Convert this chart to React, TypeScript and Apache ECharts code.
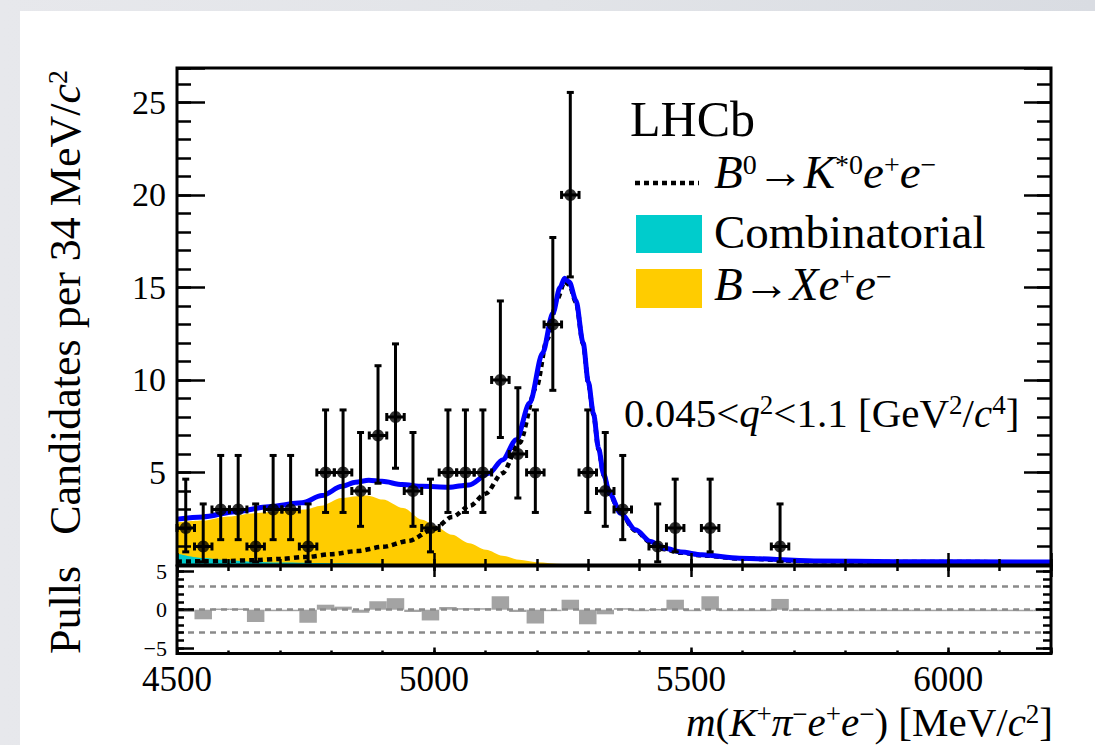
import React, { useEffect, useRef } from "react";
import * as echarts from "echarts";

const FONT = "Liberation Serif";

// ---- histogram data: 50 bins of 34 MeV/c^2 from 4500 to 6200 ----
const binCenters = [
  4517, 4551, 4585, 4619, 4653, 4687, 4721, 4755, 4789, 4823,
  4857, 4891, 4925, 4959, 4993, 5027, 5061, 5095, 5129, 5163,
  5197, 5231, 5265, 5299, 5333, 5367, 5401, 5435, 5469, 5503,
  5537, 5571, 5605, 5639, 5673, 5707, 5741, 5775, 5809, 5843,
  5877, 5911, 5945, 5979, 6013, 6047, 6081, 6115, 6149, 6183,
];
const halfBin = 17;
const counts = [
  2, 1, 3, 3, 1, 3, 3, 1, 5, 5,
  4, 7, 8, 4, 2, 5, 5, 5, 10, 6,
  5, 13, 20, 5, 4, 3, 0, 1, 2, 0,
  2, 0, 0, 0, 1, 0, 0, 0, 0, 0,
  0, 0, 0, 0, 0, 0, 0, 0, 0, 0,
];
const errLow = [
  0.71, 0.17, 1.37, 1.37, 0.17, 1.37, 1.37, 0.17, 2.84, 2.84,
  2.09, 4.42, 5.23, 2.09, 0.71, 2.84, 2.84, 2.84, 6.89, 3.62,
  2.84, 9.44, 15.57, 2.84, 2.09, 1.37, 0, 0.17, 0.71, 0,
  0.71, 0, 0, 0, 0.17, 0, 0, 0, 0, 0,
  0, 0, 0, 0, 0, 0, 0, 0, 0, 0,
];
const errHigh = [
  4.64, 3.3, 5.92, 5.92, 3.3, 5.92, 5.92, 3.3, 8.38, 8.38,
  7.16, 10.77, 11.95, 7.16, 4.64, 8.38, 8.38, 8.38, 14.27, 9.58,
  8.38, 17.7, 25.54, 8.38, 7.16, 5.92, 0, 3.3, 4.64, 0,
  4.64, 0, 0, 0, 3.3, 0, 0, 0, 0, 0,
  0, 0, 0, 0, 0, 0, 0, 0, 0, 0,
];
const pulls = [
  -0.3, -1.25, 0.15, 0.15, -1.6, -0.05, -0.05, -1.7, 0.65, 0.4,
  -0.4, 1.1, 1.5, -0.3, -1.4, 0.35, 0.2, 0.2, 1.75, -0.3,
  -1.8, -0.1, 1.3, -1.9, -0.6, 0.2, -0.1, 0.1, 1.3, -0.15,
  1.75, -0.1, -0.1, -0.1, 1.4, -0.08, -0.08, -0.08, -0.08, -0.08,
  -0.08, -0.08, -0.08, -0.08, -0.08, -0.08, -0.08, -0.08, -0.08, -0.08,
];
const pullRefLines = [3, 0, -3];

// ---- fit curves ----
const totalMass = [
  4500, 4550, 4613, 4678, 4743, 4782, 4821, 4847, 4873, 4899, 4938, 4977, 5029, 5068, 5107,
  5133, 5160, 5186, 5211, 5231, 5245, 5254, 5263, 5276, 5290, 5300, 5310, 5320, 5330, 5341,
  5363, 5392, 5421, 5449, 5480, 5521, 5594, 5739, 5900, 6200,
];
const totalFit = [
  2.48, 2.6, 2.88, 3.15, 3.36, 3.75, 4.25, 4.47, 4.58, 4.52, 4.35, 4.25, 4.2, 4.33, 4.96,
  5.68, 6.77, 8.75, 11.45, 13.6, 15.0, 15.5, 15.3, 14.3, 12.0, 9.9, 8.2, 6.3, 4.9, 3.9,
  2.8, 1.9, 1.27, 0.9, 0.7, 0.55, 0.37, 0.22, 0.18, 0.16,
];
const signalMass = [
  4500, 4550, 4600, 4650, 4700, 4750, 4800, 4850, 4900, 4950, 5000, 5035, 5070, 5100, 5133,
  5166, 5199, 5220, 5240, 5254, 5263, 5276, 5290, 5300, 5310, 5320, 5330, 5341, 5363, 5392,
  5421, 5449, 5480, 5521, 5594, 5739, 5900, 6200,
];
const signalFit = [
  0.18, 0.2, 0.22, 0.26, 0.33, 0.43, 0.58, 0.75, 0.98, 1.3, 1.95, 2.6, 3.2, 3.85, 4.96,
  6.6, 9.6, 12.2, 14.4, 15.3, 15.15, 14.2, 11.95, 9.85, 8.15, 6.25, 4.85, 3.85, 2.75, 1.85,
  1.22, 0.85, 0.66, 0.52, 0.35, 0.2, 0.16, 0.15,
];
const xeeMass = [
  4500, 4550, 4600, 4650, 4700, 4750, 4780, 4820, 4850, 4870, 4900, 4940, 4977, 5003, 5035,
  5068, 5101, 5133, 5166, 5200, 5250, 5300, 6200,
];
const xeeTop = [
  2.3, 2.4, 2.62, 2.8, 2.9, 3.0, 3.2, 3.62, 3.72, 3.76, 3.54, 3.08, 2.44, 2.08, 1.63,
  1.18, 0.82, 0.5, 0.28, 0.15, 0.05, 0.02, 0.01,
];
const combMass = [4500, 4550, 4600, 4650, 4700, 4800, 5000, 5500, 6200];
const combFit = [0.62, 0.38, 0.26, 0.18, 0.13, 0.1, 0.05, 0.02, 0.01];

const zip = (a: number[], b: number[]) => a.map((v, i) => [v, b[i]]);

function rich(size: number, sup: number) {
  const L = Math.round(size * 1.2);
  const raise = size * 0.3;
  const hs = L + 2 * 0.34 * (size - sup) - 2 * raise;
  const base = { fontFamily: FONT, fill: "#000", color: "#000" };
  return {
    n: { ...base, fontSize: size, lineHeight: L, verticalAlign: "middle" },
    i: { ...base, fontSize: size, lineHeight: L, verticalAlign: "middle", fontStyle: "italic" },
    s: { ...base, fontSize: sup, lineHeight: 4, height: hs, verticalAlign: "top" },
  };
}

function txt(x: number, y: number, text: string, size: number, sup: number, align: string, rotation = 0) {
  return {
    type: "text",
    x,
    y,
    rotation,
    z: 100,
    silent: true,
    style: {
      text,
      rich: rich(size, sup),
      fontFamily: FONT,
      fontSize: size,
      fill: "#000",
      align,
      verticalAlign: "middle",
    },
  };
}

const tickStyle = { color: "#000", width: 2.5 };

function xAx(gridIndex: number, position: string, interval: number, len: number, extra: any = {}) {
  return {
    type: "value",
    gridIndex,
    position,
    min: 4500,
    max: 6200,
    interval,
    z: 11,
    axisLine: { show: false },
    splitLine: { show: false },
    axisTick: { show: true, inside: true, length: len, lineStyle: tickStyle },
    axisLabel: { show: false },
    ...extra,
  };
}

function yAx(gridIndex: number, position: string, min: number, max: number, interval: number, len: number, extra: any = {}) {
  return {
    type: "value",
    gridIndex,
    position,
    min,
    max,
    interval,
    z: 11,
    axisLine: { show: false },
    splitLine: { show: false },
    axisTick: { show: true, inside: true, length: len, lineStyle: tickStyle },
    axisLabel: { show: false },
    ...extra,
  };
}

function buildOption(): any {
  const points: number[][] = [];
  const bars: number[][] = [];
  binCenters.forEach((m, i) => {
    if (counts[i] > 0) {
      points.push([m, counts[i], errLow[i], errHigh[i]]);
    }
    bars.push([m, pulls[i]]);
  });

  const mainTop = 26.86;

  return {
    animation: false,
    textStyle: { fontFamily: FONT },
    grid: [
      { left: 177, top: 68, width: 874, height: 497, show: true, borderColor: "#000", borderWidth: 3, backgroundColor: "rgba(0,0,0,0)", z: 10 },
      { left: 177, top: 566, width: 874, height: 87.5, show: true, borderColor: "#000", borderWidth: 3, backgroundColor: "rgba(0,0,0,0)", z: 10 },
      { left: 177, top: 571.3, width: 874, height: 76.8, show: false },
    ],
    xAxis: [
      xAx(0, "bottom", 500, 12),
      xAx(0, "bottom", 100, 6),
      xAx(0, "top", 500, 12),
      xAx(0, "top", 100, 6),
      xAx(1, "bottom", 500, 6, {
        axisLabel: {
          show: true,
          interval: 0,
          fontFamily: FONT,
          fontSize: 35,
          lineHeight: 30,
          color: "#000",
          margin: 11,
          formatter: (v: number) => (v % 500 === 0 ? String(v) : ""),
        },
      }),
      xAx(1, "bottom", 100, 3),
      { type: "value", gridIndex: 2, min: 4500, max: 6200, show: false },
    ],
    yAxis: [
      yAx(0, "left", 0, mainTop, 5, 28, {
        axisLabel: {
          show: true,
          interval: 0,
          fontFamily: FONT,
          fontSize: 34,
          color: "#000",
          margin: 11,
          formatter: (v: number) => (v > 0 && v % 5 === 0 ? String(v) : ""),
        },
      }),
      yAx(0, "left", 0, mainTop, 1, 14),
      yAx(0, "right", 0, mainTop, 5, 27),
      yAx(0, "right", 0, mainTop, 1, 14),
      { type: "value", gridIndex: 1, min: 0, max: 1, show: false },
      yAx(2, "left", -5, 5, 5, 17, {
        axisLabel: {
          show: true,
          interval: 0,
          fontFamily: FONT,
          fontSize: 22,
          lineHeight: 20,
          color: "#000",
          margin: 10,
          formatter: (v: number) => String(v).replace("-", "\u2212"),
        },
      }),
      yAx(2, "left", -5, 5, 1, 7),
      yAx(2, "right", -5, 5, 5, 15),
      yAx(2, "right", -5, 5, 1, 8),
    ],
    series: [
      {
        type: "line",
        name: "BXee",
        xAxisIndex: 0,
        yAxisIndex: 0,
        data: zip(xeeMass, xeeTop),
        symbol: "none",
        smooth: 0.3,
        smoothMonotone: "x",
        lineStyle: { width: 0 },
        areaStyle: { color: "#ffcc00", opacity: 1 },
        z: 1,
        silent: true,
      },
      {
        type: "line",
        name: "Comb",
        xAxisIndex: 0,
        yAxisIndex: 0,
        data: zip(combMass, combFit),
        symbol: "none",
        smooth: 0.3,
        smoothMonotone: "x",
        lineStyle: { width: 0 },
        areaStyle: { color: "#00cccc", opacity: 1 },
        z: 2,
        silent: true,
      },
      {
        type: "line",
        name: "Signal",
        xAxisIndex: 0,
        yAxisIndex: 0,
        data: zip(signalMass, signalFit),
        symbol: "none",
        smooth: 0.3,
        smoothMonotone: "x",
        lineStyle: { color: "#000", width: 4.5, type: [5, 4] },
        z: 3,
        silent: true,
      },
      {
        type: "line",
        name: "Total",
        xAxisIndex: 0,
        yAxisIndex: 0,
        data: zip(totalMass, totalFit),
        symbol: "none",
        smooth: 0.3,
        smoothMonotone: "x",
        lineStyle: { color: "#0000ff", width: 5 },
        z: 4,
        silent: true,
      },
      {
        type: "custom",
        name: "ErrBars",
        xAxisIndex: 0,
        yAxisIndex: 0,
        data: points,
        encode: { x: 0, y: 1 },
        z: 5,
        silent: true,
        renderItem: (_p: any, api: any) => {
          const x = api.value(0);
          const y = api.value(1);
          const lo = api.value(2);
          const hi = api.value(3);
          const p = api.coord([x, y]);
          const pt = api.coord([x, hi]);
          const pb = api.coord([x, lo]);
          const pl = api.coord([x - halfBin, y]);
          const pr = api.coord([x + halfBin, y]);
          const st = { stroke: "#000", lineWidth: 3 };
          const cv = 3.5;
          const ch = 4;
          return {
            type: "group",
            children: [
              { type: "line", shape: { x1: p[0], y1: pt[1], x2: p[0], y2: pb[1] }, style: st },
              { type: "line", shape: { x1: p[0] - cv, y1: pt[1], x2: p[0] + cv, y2: pt[1] }, style: st },
              { type: "line", shape: { x1: p[0] - cv, y1: pb[1], x2: p[0] + cv, y2: pb[1] }, style: st },
              { type: "line", shape: { x1: pl[0], y1: p[1], x2: pr[0], y2: p[1] }, style: st },
              { type: "line", shape: { x1: pl[0], y1: p[1] - ch, x2: pl[0], y2: p[1] + ch }, style: st },
              { type: "line", shape: { x1: pr[0], y1: p[1] - ch, x2: pr[0], y2: p[1] + ch }, style: st },
            ],
          };
        },
      },
      {
        type: "scatter",
        name: "Data",
        xAxisIndex: 0,
        yAxisIndex: 0,
        data: points.map((d) => [d[0], d[1]]),
        symbol: "circle",
        symbolSize: 12,
        itemStyle: { color: "#000" },
        z: 6,
        silent: true,
      },
      {
        type: "custom",
        name: "Pulls",
        xAxisIndex: 6,
        yAxisIndex: 5,
        data: bars,
        encode: { x: 0, y: 1 },
        z: 3,
        silent: true,
        renderItem: (_p: any, api: any) => {
          const x = api.value(0);
          const v = api.value(1);
          const a = api.coord([x - halfBin, v]);
          const b = api.coord([x + halfBin, 0]);
          const h = Math.max(Math.abs(b[1] - a[1]), 1.5);
          return {
            type: "rect",
            shape: { x: a[0], y: Math.min(a[1], b[1]), width: b[0] - a[0], height: h },
            style: { fill: "#a3a3a3" },
          };
        },
      },
      {
        type: "line",
        name: "PullRef",
        xAxisIndex: 6,
        yAxisIndex: 5,
        data: bars,
        symbol: "none",
        lineStyle: { width: 0, opacity: 0 },
        z: 4,
        silent: true,
        markLine: {
          silent: true,
          symbol: ["none", "none"],
          label: { show: false },
          lineStyle: { color: "#8a8a8a", type: [6, 5], width: 2.5 },
          data: pullRefLines.map((v) => ({ yAxis: v })),
        },
      },
    ],
    graphic: [
      txt(630, 119, "{n|LHCb}", 50, 28, "left"),
      {
        type: "line",
        z: 100,
        shape: { x1: 635, y1: 183, x2: 699, y2: 183 },
        style: { stroke: "#000", lineWidth: 4.5, lineDash: [5, 4] },
      },
      txt(714, 172, "{i|B}{s|0}{n|\u2192}{i|K}{s|*0}{i|e}{s|+}{i|e}{s|\u2212}", 47, 28, "left"),
      { type: "rect", z: 100, shape: { x: 636, y: 215, width: 66, height: 38 }, style: { fill: "#00cccc" } },
      txt(714, 232, "{n|Combinatorial}", 47, 28, "left"),
      { type: "rect", z: 100, shape: { x: 636, y: 269, width: 66, height: 39 }, style: { fill: "#ffcc00" } },
      txt(714, 284, "{i|B}{n|\u2192}{i|X}{i|e}{s|+}{i|e}{s|\u2212}", 47, 28, "left"),
      txt(624, 413, "{n|0.045<}{i|q}{s|2}{n|<1.1 [GeV}{s|2}{n|/}{i|c}{s|4}{n|]}", 41, 27, "left"),
      txt(1053, 721.5, "{i|m}{n|(}{i|K}{s|+}{i|\u03c0}{s|\u2212}{i|e}{s|+}{i|e}{s|\u2212}{n|) [MeV/}{i|c}{s|2}{n|]}", 41, 27, "right"),
      txt(65, 70, "{n|Candidates per 34 MeV/}{i|c}{s|2}", 44, 28, "right", Math.PI / 2),
      txt(65, 610, "{n|Pulls}", 44, 28, "center", Math.PI / 2),
    ],
  };
}

export default function App() {
  const ref = useRef<HTMLDivElement>(null);
  useEffect(() => {
    if (!ref.current) return;
    const chart = echarts.init(ref.current, null, { renderer: "svg" });
    chart.setOption(buildOption());
    return () => chart.dispose();
  }, []);
  return (
    <div
      style={{
        position: "fixed",
        left: 0,
        top: 0,
        width: 1095,
        height: 745,
        background: "linear-gradient(90deg, #e7e8ec 0%, #e2e4e8 50%, #d9dce2 100%)",
        overflow: "hidden",
      }}
    >
      <div style={{ position: "absolute", left: 20, top: 11, right: 0, bottom: 0, background: "#ffffff" }} />
      <div ref={ref} style={{ position: "absolute", left: 0, top: 0, width: 1095, height: 745 }} />
    </div>
  );
}
